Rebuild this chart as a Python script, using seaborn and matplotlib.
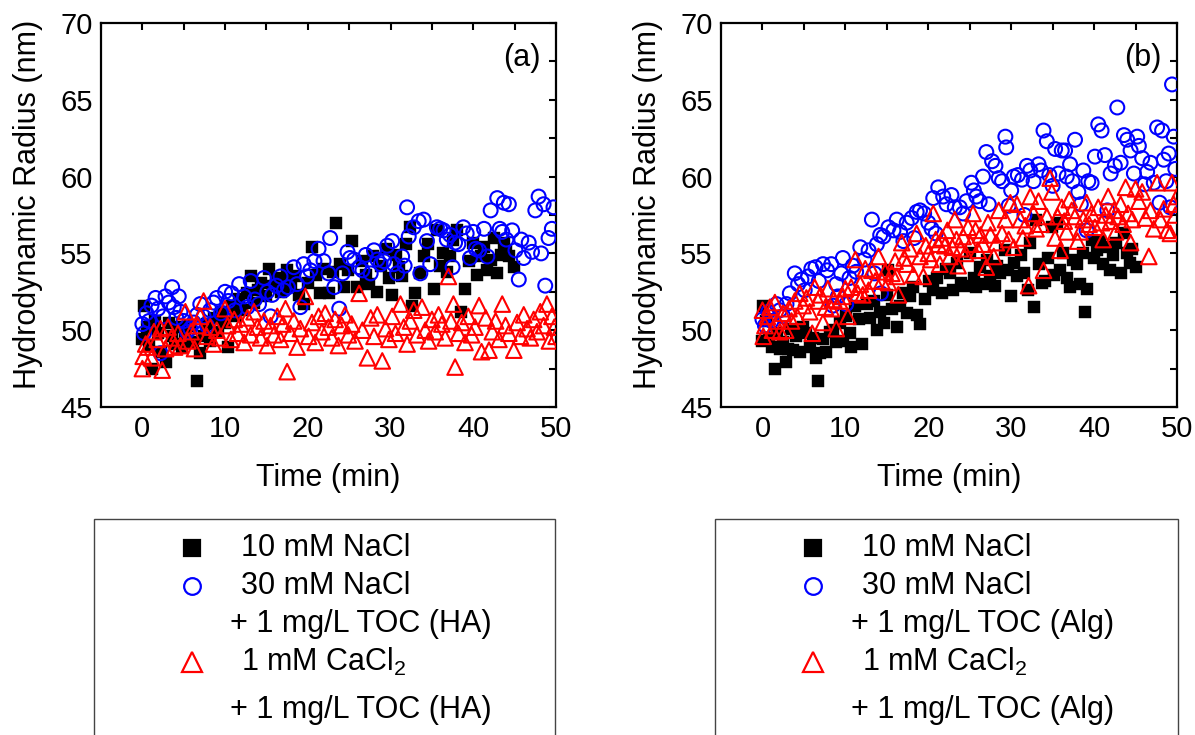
import matplotlib
matplotlib.use('Agg')
import matplotlib.pyplot as plt
import seaborn as sns
from matplotlib.lines import Line2D
from matplotlib.patches import Rectangle
from matplotlib.ticker import MultipleLocator


# ---- panel (a): humic acid ----
a_na10_t = [0.0, 0.2, 0.5, 0.8, 1.2, 1.5, 1.9, 2.3, 2.8, 3.2, 3.6, 4.0, 4.4, 4.8, 5.2, 5.7, 6.1, 6.6, 7.0, 7.4,
            7.8, 8.2, 8.7, 9.1, 9.5, 10.0, 10.4, 10.8, 11.3, 11.7, 12.1, 12.6, 13.1, 13.5, 14.0, 14.4, 14.9, 15.3,
            15.8, 16.2, 16.7, 17.1, 17.5, 18.0, 18.4, 18.9, 19.5, 20.0, 20.5, 21.0, 21.5, 22.0, 22.5, 23.0, 23.4,
            23.9, 24.4, 24.9, 25.4, 26.0, 26.5, 27.0, 27.4, 27.9, 28.4, 28.9, 29.4, 29.8, 30.2, 30.6, 31.0, 31.4,
            31.9, 32.4, 32.6, 33.0, 33.6, 34.0, 34.5, 35.2, 35.6, 36.0, 36.4, 36.8, 37.2, 37.6, 38.0, 38.5, 39.0,
            39.5, 40.0, 40.4, 40.9, 41.3, 41.7, 42.2, 42.5, 42.9, 43.3, 43.7, 44.0, 44.3, 44.9]
a_na10_r = [49.4, 51.6, 50.2, 49.0, 47.5, 50.6, 49.8, 48.6, 47.9, 50.5, 49.6, 49.1, 50.2, 48.9, 49.7, 50.3, 49.2,
            46.7, 48.5, 49.6, 50.4, 49.3, 50.8, 49.9, 51.2, 50.5, 48.9, 51.6, 50.9, 52.0, 51.3, 52.4, 53.5, 51.8,
            52.6, 53.1, 52.2, 54.0, 52.9, 53.4, 52.5, 53.2, 53.9, 52.8, 53.5, 52.3, 51.7, 53.1, 55.4, 53.6, 52.4,
            54.0, 52.4, 53.8, 57.0, 54.3, 52.8, 53.9, 55.8, 52.8, 54.5, 53.6, 53.0, 54.8, 52.5, 54.2, 55.3, 53.4,
            52.3, 54.9, 54.1, 53.5, 55.6, 56.7, 51.6, 52.4, 53.7, 54.8, 55.6, 52.7, 56.5, 54.2, 55.0, 53.8, 54.8,
            55.9, 56.5, 51.2, 52.7, 54.5, 55.7, 53.6, 54.8, 55.4, 53.9, 54.6, 56.0, 53.7, 54.9, 55.7, 55.2, 54.8,
            54.1]

a_na30_t = [0.0, 0.2, 0.5, 0.8, 1.1, 1.6, 1.9, 2.2, 2.5, 2.8, 3.2, 3.6, 3.8, 4.1, 4.4, 4.6, 5.0, 5.4, 5.8, 6.2,
            6.6, 7.0, 7.4, 7.8, 8.2, 8.6, 9.0, 9.5, 10.0, 10.4, 10.8, 11.2, 11.7, 12.3, 12.7, 13.1, 13.6, 14.1,
            14.7, 15.1, 15.5, 15.7, 16.2, 16.7, 17.1, 17.6, 18.3, 18.7, 19.1, 19.5, 19.9, 20.3, 20.8, 21.3, 21.9,
            22.5, 22.7, 23.2, 23.8, 24.2, 24.8, 25.1, 25.6, 26.2, 26.6, 27.0, 27.6, 28.0, 28.4, 28.8, 29.2, 29.6,
            30.2, 30.4, 30.8, 31.4, 31.7, 32.0, 32.2, 32.8, 33.4, 33.6, 34.0, 34.4, 34.8, 35.6, 36.0, 36.4, 36.8,
            37.2, 37.5, 37.8, 38.2, 38.8, 39.2, 39.6, 40.0, 40.3, 40.7, 41.3, 41.7, 42.1, 42.9, 43.2, 43.5, 43.7,
            44.0, 44.3, 44.7, 45.1, 45.5, 45.8, 46.1, 46.7, 47.1, 47.5, 47.9, 48.2, 48.5, 48.7, 49.1, 49.5, 49.7]
a_na30_r = [50.4, 49.8, 51.1, 50.6, 51.6, 52.1, 51.4, 48.5, 50.9, 52.2, 51.8, 52.8, 51.5, 50.8, 52.2, 51.2, 50.6,
            49.9, 50.1, 50.5, 51.0, 51.7, 50.9, 50.3, 51.3, 51.8, 52.1, 51.1, 52.5, 51.9, 52.4, 51.3, 53.0, 52.2,
            51.5, 53.2, 52.0, 51.7, 53.4, 52.5, 50.9, 52.3, 52.9, 53.5, 52.6, 52.8, 54.1, 53.0, 51.5, 54.3, 53.5,
            53.9, 54.5, 55.3, 54.5, 53.7, 56.0, 52.8, 51.4, 53.7, 55.1, 54.7, 54.6, 54.1, 53.9, 54.9, 53.7, 55.2,
            54.6, 54.3, 54.5, 55.5, 55.8, 54.3, 53.7, 54.8, 54.2, 58.0, 56.1, 56.7, 57.1, 53.7, 57.2, 55.8, 54.3,
            56.7, 56.6, 56.5, 55.9, 56.2, 54.1, 55.7, 55.6, 56.7, 56.3, 54.7, 56.4, 55.3, 55.2, 56.6, 54.8, 57.8,
            58.6, 56.6, 56.4, 58.3, 55.9, 58.2, 56.5, 55.2, 53.3, 55.9, 54.7, 55.7, 55.1, 57.8, 58.7, 55.0, 58.2,
            52.9, 56.0, 56.6, 58.0]

a_ca1_t = [0.0, 0.1, 0.4, 0.7, 1.1, 1.4, 1.8, 2.2, 2.4, 2.8, 3.1, 3.5, 3.9, 4.3, 4.6, 5.2, 5.5, 5.9, 6.3, 6.7,
           7.0, 7.4, 7.8, 8.2, 8.6, 9.0, 9.4, 10.0, 10.3, 10.7, 11.1, 11.5, 11.9, 12.3, 12.7, 13.1, 13.5, 13.9,
           14.3, 14.7, 15.1, 15.5, 15.9, 16.3, 16.7, 17.0, 17.3, 17.5, 17.9, 18.3, 18.7, 19.1, 19.7, 20.1, 20.5,
           20.9, 21.3, 21.7, 22.1, 22.5, 22.9, 23.3, 23.7, 24.1, 24.5, 24.9, 25.3, 25.7, 26.2, 26.6, 27.2, 27.6,
           28.0, 28.4, 29.0, 29.4, 29.8, 30.2, 30.6, 31.2, 31.6, 32.0, 32.4, 32.8, 33.2, 33.8, 34.2, 34.6, 35.0,
           35.4, 35.8, 36.2, 36.6, 37.0, 37.3, 37.6, 37.8, 38.2, 38.6, 39.0, 39.4, 39.8, 40.2, 40.7, 41.0, 41.5,
           41.9, 42.3, 42.7, 43.1, 43.5, 43.9, 44.3, 44.9, 45.3, 45.7, 46.1, 46.5, 46.9, 47.3, 47.7, 48.1, 48.5,
           48.9, 49.2, 49.5, 49.8, 50.0]
a_ca1_r = [47.5, 48.3, 49.1, 48.9, 48.2, 49.9, 49.4, 50.1, 47.4, 48.8, 50.2, 49.5, 48.9, 49.8, 49.0, 51.2, 49.3,
           49.9, 48.8, 50.3, 50.9, 51.9, 49.6, 50.2, 49.1, 50.0, 49.5, 51.4, 50.3, 49.4, 50.7, 49.8, 50.4, 49.2,
           50.8, 49.7, 51.2, 50.2, 49.5, 50.6, 49.0, 50.3, 49.7, 50.9, 49.4, 50.4, 51.4, 47.3, 49.8, 50.6, 48.9,
           50.1, 52.2, 49.6, 50.5, 49.2, 50.9, 49.9, 51.1, 50.2, 49.5, 50.7, 49.0, 50.3, 51.0, 49.7, 50.4, 49.3,
           52.4, 50.0, 48.2, 50.8, 49.6, 51.0, 48.0, 50.1, 49.4, 50.9, 49.8, 51.7, 50.2, 49.1, 50.6, 51.3, 49.7,
           51.5, 50.0, 49.3, 50.7, 49.9, 51.0, 50.4, 49.5, 53.5, 50.6, 51.7, 47.6, 49.8, 50.5, 49.2, 50.9, 49.7,
           50.2, 51.6, 48.6, 50.8, 48.7, 49.9, 50.6, 49.4, 51.7, 50.3, 49.8, 48.7, 50.5, 49.6, 51.0, 50.1, 49.5,
           50.7, 49.9, 51.2, 50.3, 51.7, 49.3, 50.9, 50.2, 49.6]

# ---- panel (b): alginate ----
b_na10_t = [0.0, 0.1, 0.4, 0.8, 1.2, 1.5, 1.8, 2.1, 2.5, 2.8, 3.1, 3.4, 3.7, 4.1, 4.5, 4.9, 5.3, 5.7, 6.1, 6.4,
            6.7, 6.9, 7.3, 7.7, 8.1, 8.5, 8.9, 9.3, 9.7, 10.1, 10.5, 10.7, 11.2, 11.6, 12.0, 12.6, 13.0, 13.4,
            13.8, 14.2, 14.6, 15.0, 15.2, 15.6, 16.2, 16.6, 17.0, 17.4, 17.8, 18.2, 18.6, 19.0, 19.6, 20.1, 20.6,
            21.1, 21.6, 22.1, 22.6, 23.0, 23.5, 24.0, 24.4, 25.0, 25.5, 25.8, 26.2, 26.7, 27.1, 27.5, 28.0, 28.3,
            28.7, 29.3, 29.6, 30.0, 30.3, 30.7, 31.2, 31.6, 32.0, 32.3, 32.7, 33.0, 33.3, 33.7, 34.1, 34.5, 34.9,
            35.2, 35.5, 35.9, 36.3, 36.7, 37.1, 37.5, 37.9, 38.3, 38.7, 38.9, 39.1, 39.7, 40.0, 40.3, 40.7, 41.1,
            41.5, 41.9, 42.3, 42.6, 43.2, 43.6, 44.0, 44.3, 44.6, 45.0]
b_na10_r = [49.3, 51.6, 50.6, 49.5, 48.9, 47.5, 49.8, 48.8, 49.2, 47.9, 48.8, 50.1, 48.7, 49.6, 48.6, 50.2, 49.8,
            48.9, 49.5, 48.2, 46.7, 48.5, 49.4, 48.6, 49.9, 50.0, 49.2, 50.5, 49.3, 50.9, 49.8, 48.9, 51.6, 50.7,
            49.1, 51.7, 50.8, 51.9, 50.0, 51.2, 50.5, 52.3, 53.9, 51.4, 50.2, 51.6, 52.4, 51.1, 52.2, 52.8, 51.0,
            50.4, 52.0, 53.2, 52.6, 53.4, 52.4, 54.0, 53.7, 52.6, 54.4, 53.1, 52.9, 55.0, 53.4, 52.8, 54.1, 53.0,
            54.6, 53.5, 52.9, 54.2, 53.7, 55.2, 53.9, 52.2, 54.4, 53.5, 54.9, 53.7, 52.6, 55.7, 51.5, 57.2, 54.3,
            53.1, 53.2, 54.7, 56.7, 53.6, 57.0, 53.9, 55.0, 53.4, 52.8, 54.6, 54.3, 53.0, 55.0, 51.2, 52.7, 55.9,
            54.7, 55.2, 55.8, 54.3, 55.4, 53.9, 54.9, 55.7, 53.7, 56.3, 55.0, 54.4, 55.3, 54.1]

b_na30_t = [0.0, 0.3, 0.7, 1.1, 1.7, 2.1, 2.5, 2.9, 3.3, 3.9, 4.3, 4.7, 5.1, 5.5, 5.9, 6.4, 6.8, 7.3, 7.8, 8.3,
            8.5, 8.9, 9.1, 9.5, 9.7, 10.1, 10.5, 10.9, 11.3, 11.8, 12.3, 12.8, 13.2, 13.5, 13.8, 14.2, 14.3, 14.6,
            15.2, 15.8, 16.2, 16.6, 17.0, 17.4, 18.0, 18.3, 18.6, 19.0, 19.5, 20.0, 20.4, 20.6, 20.9, 21.2, 21.8,
            22.2, 22.8, 23.2, 23.8, 24.2, 24.6, 25.2, 25.5, 25.8, 26.2, 26.6, 27.0, 27.3, 27.7, 28.1, 28.5, 28.9,
            29.3, 29.4, 29.7, 30.0, 30.3, 30.8, 31.3, 31.6, 31.9, 32.3, 32.7, 33.3, 33.6, 33.9, 34.3, 34.6, 35.0,
            35.3, 35.7, 36.1, 36.5, 36.7, 37.1, 37.4, 37.7, 38.1, 38.4, 38.7, 39.1, 39.3, 39.7, 40.1, 40.5, 40.9,
            41.3, 41.6, 42.0, 42.5, 42.8, 43.2, 43.6, 44.0, 44.4, 44.8, 45.2, 45.4, 45.8, 46.1, 46.4, 46.8, 47.2,
            47.6, 47.9, 48.2, 48.4, 48.7, 49.0, 49.2, 49.4, 49.6, 49.8]
b_na30_r = [50.7, 50.3, 51.2, 50.6, 51.7, 51.3, 50.9, 51.7, 52.4, 53.7, 53.0, 53.3, 52.6, 53.5, 54.0, 54.1, 53.2,
            54.3, 53.9, 54.3, 51.6, 53.0, 52.2, 53.7, 54.7, 51.7, 53.4, 54.2, 53.8, 55.4, 54.6, 55.2, 57.2, 53.7,
            55.6, 56.2, 52.4, 56.1, 56.7, 56.5, 57.2, 56.4, 55.8, 57.0, 57.3, 56.0, 57.7, 57.8, 57.6, 57.0, 56.6,
            58.6, 56.3, 59.3, 58.7, 58.2, 58.8, 58.0, 58.0, 57.6, 58.4, 59.6, 59.1, 58.7, 58.4, 60.0, 61.6, 58.2,
            61.0, 60.7, 59.9, 59.7, 62.6, 61.9, 58.1, 59.1, 60.0, 60.1, 59.8, 57.5, 60.7, 60.4, 59.7, 60.8, 60.4,
            63.0, 62.3, 60.1, 59.4, 61.8, 60.2, 61.7, 61.7, 60.0, 60.8, 59.7, 62.4, 59.0, 58.2, 60.4, 56.5, 59.7,
            59.6, 61.3, 63.4, 63.0, 61.4, 57.8, 60.2, 60.7, 64.5, 60.9, 62.7, 62.4, 61.7, 60.2, 62.6, 62.0, 61.2,
            59.5, 60.3, 60.9, 59.6, 63.2, 58.3, 63.0, 61.1, 59.7, 61.5, 58.0, 66.0, 62.6, 60.5]

b_ca1_t = [0.0, 0.1, 0.3, 0.6, 0.9, 1.2, 1.5, 1.8, 2.1, 2.5, 2.8, 3.2, 3.5, 3.9, 4.2, 4.5, 4.9, 5.3, 5.7, 6.0,
           6.3, 6.7, 7.0, 7.3, 7.6, 7.9, 8.3, 8.6, 8.9, 9.3, 9.7, 10.0, 10.3, 10.7, 11.2, 11.5, 11.8, 12.1, 12.4,
           12.8, 13.2, 13.6, 14.0, 14.4, 14.8, 15.2, 15.6, 16.0, 16.2, 16.4, 16.8, 17.1, 17.4, 17.8, 18.2, 18.6,
           19.0, 19.4, 19.7, 20.0, 20.3, 20.6, 20.9, 21.2, 21.4, 21.7, 22.0, 22.3, 22.6, 22.9, 23.2, 23.4, 23.6,
           23.9, 24.2, 24.5, 24.8, 25.1, 25.4, 25.7, 26.0, 26.3, 26.6, 27.0, 27.2, 27.5, 27.9, 28.2, 28.5, 28.9,
           29.3, 29.7, 29.9, 30.3, 30.7, 31.1, 31.4, 31.7, 32.1, 32.3, 32.7, 33.0, 33.3, 33.6, 33.9, 34.3, 34.7,
           34.9, 35.3, 35.6, 35.9, 36.1, 36.4, 36.7, 37.0, 37.3, 37.7, 38.0, 38.3, 38.7, 39.1, 39.4, 39.7, 40.1,
           40.5, 40.9, 41.1, 41.4, 41.7, 42.0, 42.4, 42.6, 42.9, 43.2, 43.5, 43.8, 44.1, 44.4, 44.6, 45.0, 45.4,
           45.8, 46.2, 46.6, 46.8, 47.2, 47.6, 48.0, 48.4, 48.8, 49.2, 49.4, 49.6, 49.8, 50.0]
b_ca1_r = [51.3, 49.6, 50.3, 50.9, 51.5, 50.0, 51.8, 50.6, 49.9, 51.1, 50.0, 51.4, 50.6, 51.9, 50.9, 52.4, 51.6,
           52.1, 51.2, 49.8, 52.8, 51.9, 52.3, 50.5, 51.5, 52.7, 51.4, 52.0, 50.1, 51.9, 52.2, 52.7, 50.9, 52.8,
           54.6, 52.4, 53.0, 52.3, 54.0, 52.6, 53.9, 53.2, 54.8, 53.2, 53.8, 53.1, 53.7, 54.5, 53.5, 52.3, 55.7,
           54.7, 54.3, 55.3, 53.6, 56.3, 54.8, 53.5, 55.5, 55.0, 54.6, 57.6, 55.9, 55.6, 54.3, 56.0, 55.5, 56.5,
           54.8, 55.4, 57.2, 55.9, 54.2, 55.3, 56.1, 55.0, 56.7, 55.6, 57.6, 56.5, 55.2, 56.2, 55.6, 54.1, 57.0,
           56.2, 54.8, 55.7, 57.8, 56.3, 57.2, 55.9, 58.3, 55.4, 58.2, 57.2, 56.0, 56.8, 52.9, 58.7, 57.6, 56.6,
           58.4, 56.9, 53.9, 57.4, 59.9, 59.0, 56.0, 57.4, 55.2, 58.0, 57.1, 56.4, 58.5, 57.8, 57.4, 55.8, 56.4,
           57.2, 58.3, 56.9, 57.6, 56.7, 58.0, 57.0, 55.9, 57.5, 58.7, 57.1, 57.8, 56.4, 57.4, 58.2, 56.9, 59.3,
           57.6, 55.7, 57.2, 59.2, 58.4, 59.0, 57.3, 54.8, 57.8, 56.6, 59.6, 57.2, 57.9, 56.5, 56.3, 59.6, 58.2,
           57.5, 58.7]

panel_tags = ['(a)', '(b)']
toc_lines = ['+ 1 mg/L TOC (HA)', '+ 1 mg/L TOC (Alg)']
y_label = 'Hydrodynamic Radius (nm)'
x_label = 'Time (min)'

W, H = 1195, 735
sns.set_theme(style='white')
plt.rcParams['font.family'] = ['Liberation Sans', 'DejaVu Sans']
plt.rcParams['mathtext.fontset'] = 'custom'
plt.rcParams['mathtext.rm'] = 'Liberation Sans'
plt.rcParams['mathtext.it'] = 'Liberation Sans:italic'
for key in ['text.color', 'axes.labelcolor', 'xtick.color', 'ytick.color']:
    plt.rcParams[key] = 'black'

fig = plt.figure(figsize=(W / 100, H / 100), dpi=100)
ax_a = fig.add_axes([101 / W, 1 - 407 / H, 455 / W, 384 / H])
ax_b = fig.add_axes([721 / W, 1 - 407 / H, 456 / W, 384 / H])

panels = [
    (ax_a, (a_na10_t, a_na10_r), (a_na30_t, a_na30_r), (a_ca1_t, a_ca1_r)),
    (ax_b, (b_na10_t, b_na10_r), (b_na30_t, b_na30_r), (b_ca1_t, b_ca1_r)),
]

for i, (ax, sq, ci, tr) in enumerate(panels):
    sns.scatterplot(x=sq[0], y=sq[1], ax=ax, marker='s', color='black',
                    edgecolor='black', linewidth=0.3, s=85, zorder=2)
    sns.scatterplot(x=ci[0], y=ci[1], ax=ax, marker='o', facecolors='none',
                    edgecolor='#0000ff', linewidth=1.5, s=100, zorder=3)
    sns.scatterplot(x=tr[0], y=tr[1], ax=ax, marker='^', facecolors='none',
                    edgecolor='#ff0000', linewidth=1.5, s=125, zorder=4)

    ax.set_xlim(-5, 50)
    ax.set_ylim(45, 70)
    ax.xaxis.set_major_locator(MultipleLocator(10))
    ax.xaxis.set_minor_locator(MultipleLocator(5))
    ax.yaxis.set_major_locator(MultipleLocator(5))
    ax.yaxis.set_minor_locator(MultipleLocator(2.5))
    ax.tick_params(which='both', direction='in', top=True, right=True,
                   length=5, width=1.5, color='black')
    ax.tick_params(which='major', labelsize=21, pad=6)
    for sp in ax.spines.values():
        sp.set_linewidth(1.6)
        sp.set_color('black')

    ax.set_xlabel(x_label, fontsize=22, va='center')
    ax.xaxis.set_label_coords(0.5, -0.185)
    ax.set_ylabel(y_label, fontsize=22, va='center')
    ax.yaxis.set_label_coords(-0.160, 0.527)
    ax.text(0.967, 0.91, panel_tags[i], transform=ax.transAxes,
            ha='right', va='center', fontsize=22)


def draw_legend(x0, x1, mx, tx, toc):
    fig.add_artist(Rectangle((x0 / W, -0.05), (x1 - x0) / W, (1 - 519 / H) + 0.05,
                             transform=fig.transFigure, fill=False,
                             edgecolor='#444444', linewidth=1.0))
    rows = [548, 586, 624, 662, 710]
    handles = [('s', 'black', 'black', 11.0), ('o', 'none', '#0000ff', 12.0),
               None, ('^', 'none', '#ff0000', 14.0), None]
    labels = ['10 mM NaCl', '30 mM NaCl', toc, '1 mM CaCl$_2$', toc]
    for yy, hd, lab in zip(rows, handles, labels):
        yf = 1 - yy / H
        if hd is not None:
            m, fc, ec, ms = hd
            fig.add_artist(Line2D([mx / W], [yf], marker=m, markersize=ms,
                                  markerfacecolor=fc, markeredgecolor=ec,
                                  markeredgewidth=1.6, linestyle='none',
                                  transform=fig.transFigure))
            fig.text(tx / W, yf, lab, fontsize=22, ha='left', va='center')
        else:
            fig.text((tx - 11) / W, yf, lab, fontsize=22, ha='left', va='center')


draw_legend(94, 555, 192, 241, toc_lines[0])
draw_legend(715, 1178, 813, 862, toc_lines[1])

fig.savefig('out.png', dpi=100)
